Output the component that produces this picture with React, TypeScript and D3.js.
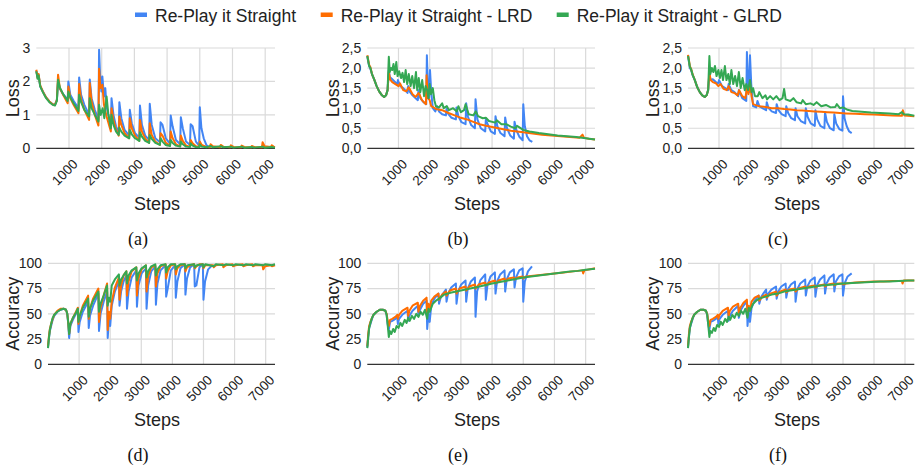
import React from "react";
import * as d3 from "d3";

type Pt = [number, number];

const BLUE = "#4285f4";
const ORANGE = "#ff6d01";
const GREEN = "#34a853";
const FONT = "'Liberation Sans', Arial, sans-serif";

// x: training step, y: value

// (a) loss
const lossA_blue: Pt[] = [[0,2.32],[40,2.12],[70,2.2],[120,1.85],[200,1.7],[300,1.52],[400,1.4],[500,1.32],[570,1.3],[630,1.45],
  [665,2.02],[720,1.78],[820,1.62],[960,1.45],[980,2.0],[1040,1.6],[1140,1.42],[1290,1.2],
  [1310,2.12],[1370,1.6],[1470,1.3],[1615,1.0],[1635,2.06],[1690,1.5],[1790,1.15],[1900,0.85],
  [1920,2.95],[1950,2.2],[1990,1.7],[2020,2.15],[2070,1.55],[2110,1.8],[2150,1.25],[2280,0.62],
  [2300,1.5],[2360,1.0],[2440,0.65],[2520,0.45],[2540,1.38],[2600,0.9],[2700,0.55],[2840,0.38],
  [2860,1.15],[2920,0.75],[3020,0.45],[3150,0.32],[3170,1.28],[3230,0.7],[3330,0.38],[3450,0.25],
  [3470,1.33],[3530,0.7],[3640,0.3],[3780,0.18],[3800,0.78],[3860,0.7],[3960,0.3],[4090,0.14],
  [4110,0.98],[4170,0.65],[4270,0.25],[4400,0.12],[4420,0.93],[4480,0.6],[4580,0.2],[4700,0.1],
  [4720,0.72],[4780,0.66],[4880,0.2],[4980,0.08],[5000,1.23],[5050,0.6],[5120,0.3],[5200,0.1],[5280,0.03]];
const lossA_orange: Pt[] = [[0,2.35],[40,2.1],[70,2.22],[120,1.88],[200,1.7],[300,1.52],[400,1.4],[500,1.32],[570,1.3],[630,1.45],
  [665,2.2],[720,1.8],[820,1.6],[960,1.35],[980,1.85],[1040,1.5],[1140,1.3],[1290,1.05],
  [1310,1.92],[1370,1.45],[1470,1.15],[1615,0.85],[1635,1.95],[1690,1.4],[1790,1.0],[1900,0.68],
  [1920,2.38],[1960,1.8],[2020,1.9],[2070,1.3],[2150,0.95],[2280,0.5],
  [2300,1.2],[2360,0.85],[2440,0.55],[2520,0.38],[2540,0.95],[2600,0.7],[2700,0.45],[2840,0.3],
  [2860,0.9],[2920,0.6],[3020,0.38],[3150,0.22],[3170,0.85],[3230,0.5],[3330,0.3],[3450,0.16],
  [3470,0.75],[3530,0.4],[3640,0.2],[3780,0.1],[3800,0.45],[3860,0.38],[3960,0.16],[4090,0.08],
  [4110,0.5],[4170,0.3],[4270,0.12],[4400,0.06],[4420,0.38],[4480,0.22],[4580,0.08],[4700,0.05],
  [4720,0.25],[4780,0.15],[4880,0.06],[4980,0.04],[5000,0.2],[5060,0.1],[5200,0.04],[5310,0.03],
  [5330,0.12],[5400,0.06],[5620,0.03],[5640,0.1],[5720,0.05],[5930,0.03],[5950,0.09],[6030,0.04],
  [6260,0.03],[6280,0.08],[6360,0.04],[6570,0.03],[6590,0.07],[6660,0.04],[6900,0.03],[6920,0.18],
  [6980,0.06],[7180,0.04],[7200,0.09],[7260,0.05],[7300,0.04]];
const lossA_green: Pt[] = [[0,2.3],[40,2.08],[70,2.18],[120,1.85],[200,1.68],[300,1.5],[400,1.38],[500,1.3],[570,1.28],[630,1.42],
  [665,2.05],[720,1.82],[820,1.62],[960,1.42],[980,1.7],[1040,1.52],[1140,1.35],[1290,1.12],
  [1310,1.6],[1370,1.38],[1470,1.15],[1615,0.95],[1635,1.5],[1690,1.2],[1790,1.0],[1900,0.8],
  [1920,1.3],[1970,1.0],[2030,1.2],[2080,0.9],[2150,1.55],[2200,1.05],[2280,0.6],
  [2300,1.0],[2360,0.7],[2440,0.5],[2520,0.4],[2540,0.62],[2600,0.5],[2700,0.38],[2840,0.3],
  [2860,0.55],[2920,0.42],[3020,0.3],[3150,0.22],[3170,0.48],[3230,0.35],[3330,0.22],[3450,0.16],
  [3470,0.4],[3530,0.28],[3640,0.16],[3780,0.1],[3800,0.3],[3860,0.2],[3960,0.1],[4090,0.07],
  [4110,0.25],[4170,0.16],[4270,0.08],[4400,0.05],[4420,0.2],[4480,0.12],[4580,0.05],[4700,0.04],
  [4720,0.15],[4780,0.08],[4880,0.04],[4980,0.03],[5000,0.12],[5060,0.05],[5200,0.03],[5330,0.07],
  [5400,0.03],[5640,0.06],[5720,0.03],[5950,0.05],[6030,0.02],[6280,0.05],[6360,0.02],[6590,0.04],
  [6660,0.02],[6920,0.05],[6980,0.02],[7200,0.04],[7300,0.02]];

// (b) loss
const lossB_blue: Pt[] = [[0,2.3],[30,2.15],[60,2.05],[100,1.98],[150,1.85],[220,1.72],[300,1.55],[380,1.42],[460,1.33],[540,1.28],[600,1.32],[650,1.45],
  [690,1.95],[720,1.78],[800,1.72],[880,1.66],[960,1.6],[980,1.7],[1060,1.55],[1150,1.5],[1250,1.42],[1290,1.38],
  [1310,1.55],[1370,1.4],[1450,1.32],[1550,1.25],[1620,1.2],[1640,1.45],[1700,1.25],[1800,1.15],[1890,1.1],
  [1910,2.32],[1940,1.6],[1980,1.25],[2010,1.95],[2050,1.4],[2100,1.0],[2180,0.92],
  [2240,1.05],[2300,0.92],[2400,0.85],[2520,0.82],[2540,0.98],[2600,0.85],[2700,0.76],[2840,0.72],
  [2860,1.02],[2920,0.8],[3020,0.65],[3150,0.6],[3170,1.12],[3230,0.78],[3330,0.58],[3450,0.5],
  [3470,1.22],[3530,0.72],[3640,0.5],[3780,0.42],[3800,0.72],[3860,0.6],[3960,0.42],[4090,0.36],
  [4110,0.8],[4170,0.55],[4270,0.38],[4400,0.3],[4420,0.77],[4480,0.5],[4580,0.32],[4700,0.24],
  [4720,0.66],[4780,0.45],[4880,0.28],[4980,0.2],[5000,1.1],[5050,0.55],[5120,0.3],[5200,0.2],[5290,0.16]];
const lossB_orange: Pt[] = [[0,2.32],[30,2.2],[60,2.08],[100,2.02],[150,1.85],[220,1.72],[300,1.55],[380,1.42],[460,1.33],[540,1.28],[600,1.32],[650,1.45],
  [690,1.9],[730,1.72],[800,1.65],[900,1.6],[1000,1.55],[1050,1.62],[1150,1.45],[1250,1.42],[1330,1.52],[1450,1.35],
  [1550,1.28],[1650,1.38],[1750,1.2],[1880,1.1],[1900,1.82],[1940,1.25],[2000,1.2],[2050,1.05],[2200,0.98],
  [2400,0.95],[2600,0.88],[2800,0.82],[3000,0.76],[3200,0.72],[3400,0.66],[3600,0.6],[3800,0.56],[4000,0.53],
  [4200,0.5],[4400,0.47],[4600,0.44],[4800,0.42],[5000,0.4],[5300,0.37],[5600,0.34],[5900,0.32],[6200,0.3],
  [6500,0.28],[6800,0.26],[6900,0.34],[6950,0.26],[7100,0.24],[7300,0.22]];
const lossB_green: Pt[] = [[0,2.3],[30,2.18],[60,2.05],[100,2.0],[150,1.85],[220,1.72],[300,1.55],[380,1.42],[460,1.33],[540,1.28],[600,1.32],[650,1.45],
  [690,2.28],[720,1.9],[760,2.0],[800,1.95],[840,2.1],[880,1.85],[930,2.15],[970,1.8],[1020,1.92],[1080,1.75],
  [1130,1.88],[1180,1.65],[1230,1.95],[1280,1.6],[1330,1.85],[1390,1.55],[1440,1.8],[1500,1.5],[1560,1.9],
  [1600,1.45],[1650,1.75],[1700,1.4],[1760,1.7],[1820,1.3],[1870,1.55],[1920,1.45],[1960,1.25],[2000,1.6],
  [2040,1.35],[2100,1.5],[2150,1.2],[2200,1.05],[2300,1.02],[2400,1.12],[2450,1.0],[2550,1.05],[2620,0.95],
  [2750,1.0],[2870,0.92],[2920,1.05],[3000,0.9],[3100,0.95],[3150,1.1],[3250,0.85],[3400,0.82],[3480,0.92],
  [3550,0.8],[3700,0.75],[3800,0.76],[3900,0.68],[4100,0.64],[4150,0.7],[4300,0.6],[4450,0.6],[4600,0.54],
  [4750,0.5],[4800,0.56],[5000,0.46],[5200,0.42],[5500,0.38],[5800,0.35],[6100,0.32],[6400,0.3],[6700,0.28],
  [7000,0.25],[7300,0.22]];

// (c) loss
const lossC_blue: Pt[] = [[0,2.32],[30,2.15],[60,2.0],[100,1.95],[150,1.82],[220,1.7],[300,1.52],[380,1.4],[460,1.32],[540,1.28],[600,1.32],[650,1.45],
  [690,1.85],[730,1.7],[800,1.72],[900,1.65],[980,1.62],[1000,1.7],[1100,1.55],[1200,1.5],[1290,1.45],
  [1310,1.6],[1400,1.45],[1500,1.4],[1620,1.3],[1640,1.45],[1750,1.25],[1880,1.18],[1900,2.4],[1930,1.8],
  [1970,1.4],[2000,2.32],[2040,1.6],[2100,1.05],[2200,1.02],
  [2240,1.18],[2300,1.05],[2400,1.0],[2520,0.95],[2540,1.15],[2600,1.0],[2700,0.92],[2840,0.88],
  [2860,1.1],[2920,0.95],[3020,0.85],[3150,0.8],[3170,1.05],[3230,0.88],[3330,0.75],[3450,0.7],
  [3470,1.0],[3530,0.8],[3640,0.68],[3780,0.62],[3800,1.0],[3860,0.78],[3960,0.62],[4090,0.56],
  [4110,0.95],[4170,0.72],[4270,0.56],[4400,0.5],[4420,0.9],[4480,0.66],[4580,0.5],[4700,0.45],
  [4720,0.85],[4780,0.62],[4880,0.48],[4980,0.44],[5000,1.3],[5050,0.75],[5120,0.55],[5200,0.42],[5280,0.38]];
const lossC_orange: Pt[] = [[0,2.33],[30,2.2],[60,2.05],[100,1.98],[150,1.84],[220,1.7],[300,1.52],[380,1.4],[460,1.32],[540,1.28],[600,1.32],[650,1.45],
  [690,1.9],[730,1.7],[800,1.65],[900,1.62],[980,1.55],[1050,1.6],[1150,1.48],[1250,1.45],[1310,1.55],[1400,1.4],
  [1500,1.38],[1600,1.32],[1650,1.45],[1750,1.3],[1850,1.25],[1900,1.5],[1950,1.35],[2000,1.62],[2050,1.3],
  [2100,1.1],[2200,1.07],[2300,1.05],[2500,1.03],[2700,1.0],[2900,1.0],[3100,0.98],[3300,0.97],[3500,0.95],
  [3700,0.94],[3900,0.93],[4100,0.92],[4300,0.91],[4500,0.9],[4700,0.89],[4900,0.88],[5100,0.87],[5400,0.86],
  [5700,0.85],[6000,0.84],[6300,0.83],[6600,0.82],[6900,0.81],[6930,0.95],[6980,0.82],[7300,0.8]];
const lossC_green: Pt[] = [[0,2.3],[30,2.18],[60,2.03],[100,1.97],[150,1.83],[220,1.7],[300,1.52],[380,1.4],[460,1.32],[540,1.28],[600,1.32],[650,1.45],
  [690,2.3],[720,1.85],[770,2.0],[820,1.9],[870,2.05],[920,1.8],[980,1.95],[1030,1.75],[1080,1.95],[1130,1.7],
  [1190,2.05],[1240,1.7],[1300,1.85],[1350,1.6],[1400,1.95],[1460,1.6],[1520,1.8],[1580,1.55],[1640,1.9],
  [1700,1.5],[1760,1.75],[1830,1.45],[1880,1.6],[1940,1.45],[2000,1.7],[2050,1.4],[2100,1.5],[2160,1.3],
  [2250,1.3],[2300,1.4],[2400,1.25],[2500,1.32],[2550,1.22],[2650,1.3],[2750,1.22],[2850,1.3],[2950,1.2],
  [3050,1.25],[3100,1.48],[3150,1.22],[3300,1.18],[3400,1.25],[3500,1.15],[3650,1.12],[3700,1.2],[3800,1.1],
  [3950,1.12],[4050,1.08],[4150,1.15],[4300,1.05],[4450,1.08],[4600,1.02],[4750,1.03],[4800,1.1],[4900,1.0],
  [5000,1.02],[5150,0.96],[5300,0.93],[5600,0.91],[5900,0.89],[6200,0.88],[6500,0.87],[6800,0.85],[6900,0.9],
  [6950,0.85],[7100,0.84],[7300,0.81]];

// (d) accuracy
const accD_blue: Pt[] = [[0,17],[30,26],[60,33],[100,38],[150,44],[200,48],[300,52],[400,54],[500,55],[580,54],[620,50],[650,40],
  [680,26],[720,38],[800,44],[900,50],[960,55],[980,32],[1020,42],[1120,52],[1290,62],
  [1310,36],[1350,48],[1450,58],[1620,70],[1640,33],[1690,50],[1790,62],[1900,72],
  [1920,26],[1960,45],[2000,38],[2050,58],[2150,72],[2280,82],[2300,58],[2350,72],[2430,82],[2520,88],
  [2540,55],[2590,72],[2690,86],[2840,93],[2860,57],[2910,78],[3010,90],[3150,95],
  [3170,55],[3220,78],[3320,92],[3450,97],[3470,59],[3520,80],[3620,93],[3780,98],
  [3800,67],[3850,75],[3950,93],[4090,98],[4110,66],[4160,82],[4260,95],[4400,99],
  [4420,69],[4470,85],[4570,96],[4700,99],[4720,77],[4770,78],[4870,96],[4980,99],
  [5000,64],[5050,82],[5150,94],[5280,98]];
const accD_orange: Pt[] = [[0,18],[30,28],[60,35],[100,40],[150,45],[200,49],[300,53],[400,55],[500,55],[580,54],[620,50],[650,42],
  [680,30],[720,40],[800,46],[900,52],[960,56],[980,40],[1020,48],[1120,58],[1290,68],
  [1310,45],[1350,55],[1450,65],[1620,75],[1640,42],[1690,56],[1790,68],[1900,80],
  [1920,34],[1960,52],[2000,45],[2050,62],[2150,76],[2280,86],[2300,64],[2350,78],[2430,88],[2520,92],
  [2540,68],[2590,82],[2690,92],[2840,96],[2860,68],[2910,85],[3010,94],[3150,98],
  [3170,72],[3220,87],[3320,96],[3450,98],[3470,77],[3520,90],[3620,97],[3780,99],
  [3800,85],[3850,92],[3950,98],[4090,99],[4110,89],[4160,95],[4260,98],[4400,99],
  [4420,92],[4470,96],[4570,98],[4700,99],[4720,95],[4770,97],[4870,99],[4980,99],
  [5000,95],[5060,98],[5310,98],[5330,96],[5400,98],[5620,99],[5640,96],[5720,98],[5930,99],[5950,97],
  [6030,98],[6260,99],[6280,97],[6360,98],[6570,99],[6590,97],[6660,98],[6900,98],[6920,94],[6980,97],
  [7180,98],[7200,97],[7300,98]];
const accD_green: Pt[] = [[0,16],[30,26],[60,34],[100,40],[150,46],[200,49],[300,52],[400,54],[500,55],[580,54],[620,50],[650,42],
  [680,30],[720,40],[800,46],[900,51],[960,55],[980,42],[1020,48],[1120,56],[1290,65],
  [1310,47],[1350,55],[1450,63],[1620,72],[1640,52],[1690,60],[1790,68],[1900,78],
  [1920,58],[1960,66],[2000,62],[2050,78],[2150,84],[2280,89],[2300,78],[2350,84],[2430,88],[2520,92],
  [2540,80],[2590,88],[2690,93],[2840,96],[2860,83],[2910,90],[3010,95],[3150,98],
  [3170,86],[3220,92],[3320,97],[3450,99],[3470,88],[3520,94],[3620,98],[3780,99],
  [3800,91],[3850,96],[3950,99],[4090,99],[4110,94],[4160,97],[4260,99],[4400,99],
  [4420,95],[4480,98],[4700,99],[4720,96],[4780,98],[4980,99],[5000,96],[5060,99],[5330,97],[5400,99],
  [5640,98],[5720,99],[5950,98],[6030,99],[6280,98],[6360,99],[6590,98],[6660,99],[6920,98],[6980,99],
  [7200,98],[7300,99]];

// (e) accuracy
const accE_blue: Pt[] = [[0,17],[30,27],[60,36],[100,40],[150,45],[200,49],[300,52],[400,54],[500,54],[580,53],[620,49],[650,40],
  [690,34],[730,42],[800,43],[900,45],[960,47],[980,40],[1020,45],[1120,49],[1290,53],
  [1310,43],[1350,48],[1450,53],[1620,58],[1640,48],[1690,54],[1790,60],[1900,63],
  [1920,35],[1960,50],[2000,42],[2050,58],[2150,65],[2280,70],[2300,60],[2350,66],[2430,70],[2520,74],
  [2540,62],[2590,70],[2690,76],[2840,80],[2860,60],[2910,72],[3010,79],[3150,83],
  [3170,62],[3220,75],[3320,82],[3450,86],[3470,47],[3520,72],[3620,83],[3780,89],
  [3800,64],[3850,78],[3950,87],[4090,91],[4110,70],[4160,82],[4260,89],[4400,93],
  [4420,72],[4470,84],[4570,91],[4700,94],[4720,76],[4770,86],[4870,93],[4980,95],
  [5000,62],[5050,82],[5150,92],[5280,97]];
const accE_orange: Pt[] = [[0,18],[30,30],[60,38],[100,42],[150,46],[200,49],[300,52],[400,54],[500,54],[580,53],[620,50],[650,44],
  [690,38],[730,44],[800,45],[900,47],[960,49],[980,45],[1020,49],[1120,53],[1290,56],
  [1310,48],[1350,53],[1450,58],[1620,61],[1640,52],[1690,58],[1790,63],[1900,66],
  [1920,50],[1960,60],[2000,55],[2050,63],[2150,67],[2280,70],[2300,64],[2400,69],[2520,72],[2540,68],
  [2650,73],[2840,75],[2860,70],[2960,75],[3150,77],[3170,73],[3270,77],[3450,79],[3470,75],[3570,79],
  [3780,81],[3800,78],[3900,81],[4090,83],[4110,80],[4210,83],[4400,85],[4420,82],[4520,85],[4700,86],
  [4720,84],[4820,86],[4980,87],[5000,85],[5100,87],[5400,88],[5700,89],[6000,90],[6300,91],[6600,92],
  [6900,93],[6920,90],[6960,93],[7300,95]];
const accE_green: Pt[] = [[0,16],[30,27],[60,36],[100,41],[150,46],[200,49],[300,52],[400,54],[500,54],[580,53],[620,49],[650,40],
  [690,27],[720,33],[770,30],[830,35],[880,32],[940,38],[1000,36],[1060,41],[1120,38],[1200,44],[1260,41],
  [1310,46],[1360,43],[1430,48],[1500,45],[1570,50],[1640,47],[1710,52],[1780,49],[1850,54],[1920,45],
  [1960,55],[2000,52],[2100,60],[2200,63],[2300,65],[2460,69],[2700,71],[3000,73],[3300,75],[3600,77],
  [4000,80],[4250,81.5],[4500,83],[4750,84.5],[5000,86],[5250,87],[5500,88],[5750,89],[6000,90],[6250,91],
  [6500,92],[6750,92.5],[7000,93.5],[7300,94.5]];

// (f) accuracy
const accF_blue: Pt[] = [[0,17],[30,27],[60,36],[100,40],[150,45],[200,49],[300,52],[400,54],[500,54],[580,53],[620,49],[650,40],
  [690,34],[730,42],[800,43],[900,45],[960,47],[980,40],[1020,45],[1120,49],[1290,53],
  [1310,43],[1350,48],[1450,53],[1620,58],[1640,46],[1690,53],[1790,58],[1900,62],
  [1920,38],[1960,52],[2000,42],[2050,56],[2150,63],[2280,68],[2300,60],[2350,66],[2430,70],[2520,74],
  [2540,64],[2590,70],[2690,74],[2840,77],[2860,65],[2910,72],[3010,77],[3150,80],
  [3170,66],[3220,74],[3320,79],[3450,82],[3470,62],[3520,74],[3620,80],[3780,84],
  [3800,68],[3850,77],[3950,83],[4090,86],[4110,67],[4160,78],[4260,84],[4400,88],
  [4420,70],[4470,80],[4570,86],[4700,89],[4720,72],[4770,82],[4870,87],[4980,89],
  [5000,68],[5050,80],[5150,87],[5280,90]];
const accF_orange: Pt[] = [[0,18],[30,30],[60,38],[100,42],[150,46],[200,49],[300,52],[400,54],[500,54],[580,53],[620,50],[650,44],
  [690,38],[730,44],[800,45],[900,47],[960,49],[980,45],[1020,49],[1120,53],[1290,56],
  [1310,48],[1350,53],[1450,57],[1620,60],[1640,51],[1690,56],[1790,61],[1900,64],
  [1920,48],[1960,58],[2000,53],[2050,62],[2150,66],[2280,68],[2300,63],[2400,67],[2520,69],[2540,66],
  [2650,70],[2840,72],[2860,68],[2960,72],[3150,74],[3170,71],[3270,74],[3450,75],[3470,72],[3570,75],
  [3780,77],[3800,75],[3900,77],[4090,78],[4110,76],[4210,78],[4400,79],[4420,77],[4520,79],[4700,80],
  [4720,78],[4820,80],[4980,80],[5000,79],[5100,80],[5400,81],[5700,81.5],[6000,82],[6300,82],[6600,82.5],
  [6900,82.5],[6920,80],[6960,83],[7300,83]];
const accF_green: Pt[] = [[0,16],[30,27],[60,36],[100,41],[150,46],[200,49],[300,52],[400,54],[500,54],[580,53],[620,49],[650,40],
  [690,27],[720,33],[770,31],[830,36],[880,33],[940,39],[1000,37],[1060,42],[1120,39],[1200,45],[1260,42],
  [1310,47],[1360,44],[1430,49],[1500,46],[1570,51],[1640,48],[1710,53],[1780,50],[1850,55],[1920,46],
  [1960,56],[2000,53],[2100,60],[2200,63],[2300,65],[2400,66],[2500,67],[2700,69],[2900,70],[3100,72],
  [3300,73],[3500,74],[3700,75],[3900,76],[4100,77],[4300,78],[4500,78.5],[4700,79],[5000,80],[5300,80.5],
  [5600,81],[5900,81.5],[6200,82],[6500,82],[6800,82.5],[7100,83],[7300,83]];

const seriesNames = ["Re-Play it Straight", "Re-Play it Straight - LRD", "Re-Play it Straight - GLRD"];
const seriesColors = [BLUE, ORANGE, GREEN];
const stepTicks = [1000, 2000, 3000, 4000, 5000, 6000, 7000];
const lossTicksA = [0, 1, 2, 3];
const lossTicksBC = [0, 0.5, 1, 1.5, 2, 2.5];
const accTicks = [0, 25, 50, 75, 100];
const captions = ["(a)", "(b)", "(c)", "(d)", "(e)", "(f)"];

type PanelProps = {
  col: number;
  row: number;
  left: number;
  right: number;
  ticks: number[];
  fmt: (v: number) => string;
  yLabel: string;
  caption: string;
  data: Pt[][];
};

function Panel({ col, row, left, right, ticks, fmt, yLabel, caption, data }: PanelProps) {
  const colX = col * 320;
  const top = row === 0 ? 48 : 263.3;
  const bottom = row === 0 ? 148.3 : 364.3;
  const x = d3.scaleLinear().domain([0, 7300]).range([left, right]);
  const y = d3.scaleLinear().domain([0, ticks[ticks.length - 1]]).range([bottom, top]);
  const line = d3.line<Pt>().x(d => x(d[0])).y(d => y(d[1]));

  return (
    <g>
      {ticks.filter(t => t > 0).map(t => (
        <line key={"h" + t} x1={left} x2={right} y1={y(t)} y2={y(t)} stroke="#dadada" strokeWidth={1.2} />
      ))}
      {stepTicks.map(t => (
        <line key={"v" + t} x1={x(t)} x2={x(t)} y1={top} y2={bottom} stroke="#dadada" strokeWidth={1.2} />
      ))}
      <line x1={left} x2={right} y1={y(0)} y2={y(0)} stroke="#333" strokeWidth={1.2} />
      {data.map((d, i) => (
        <path key={i} d={line(d) || ""} fill="none" stroke={seriesColors[i]} strokeWidth={2} strokeLinejoin="round" />
      ))}
      {ticks.map(t => (
        <text key={"yt" + t} x={left - 6} y={y(t)} dy="0.35em" textAnchor="end" fontSize={14} fill="#222">
          {fmt(t)}
        </text>
      ))}
      {stepTicks.map(t => (
        <text key={"xt" + t} transform={`translate(${x(t) + 3},${bottom + 10}) rotate(-45)`}
          dy="0.7em" textAnchor="end" fontSize={13.5} fill="#222">
          {t}
        </text>
      ))}
      <text transform={`translate(${colX + 19},${(top + bottom) / 2}) rotate(-90)`} textAnchor="middle"
        fontSize={18} fill="#222">
        {yLabel}
      </text>
      <text x={colX + 157} y={bottom + 62} textAnchor="middle" fontSize={18} fill="#222">Steps</text>
      <text x={colX + 138} y={bottom + 97} textAnchor="middle" fontSize={18} fill="#111"
        fontFamily="'Liberation Serif', 'DejaVu Serif', serif">
        {caption}
      </text>
    </g>
  );
}

const fmtInt = (v: number) => String(v);
const fmtComma = (v: number) => v.toFixed(1).replace(".", ",");

export default function App() {
  const legendX = [135, 320.7, 556.7];
  return (
    <svg width={916} height={469} style={{ position: "absolute", left: 0, top: 0, background: "#fff" }}
      fontFamily={FONT}>
      {seriesNames.map((n, i) => (
        <g key={n}>
          <rect x={legendX[i]} y={12.5} width={12} height={4.5} fill={seriesColors[i]} />
          <text x={legendX[i] + 20} y={21.5} fontSize={17.5} fill="#222">{n}</text>
        </g>
      ))}
      <Panel col={0} row={0} left={36.3} right={275} ticks={lossTicksA} fmt={fmtInt} yLabel="Loss"
        caption={captions[0]} data={[lossA_blue, lossA_orange, lossA_green]} />
      <Panel col={1} row={0} left={367.3} right={595} ticks={lossTicksBC} fmt={fmtComma} yLabel="Loss"
        caption={captions[1]} data={[lossB_blue, lossB_orange, lossB_green]} />
      <Panel col={2} row={0} left={688} right={914.3} ticks={lossTicksBC} fmt={fmtComma} yLabel="Loss"
        caption={captions[2]} data={[lossC_blue, lossC_orange, lossC_green]} />
      <Panel col={0} row={1} left={48} right={275} ticks={accTicks} fmt={fmtInt} yLabel="Accuracy"
        caption={captions[3]} data={[accD_blue, accD_orange, accD_green]} />
      <Panel col={1} row={1} left={367.3} right={595} ticks={accTicks} fmt={fmtInt} yLabel="Accuracy"
        caption={captions[4]} data={[accE_blue, accE_orange, accE_green]} />
      <Panel col={2} row={1} left={688} right={914.3} ticks={accTicks} fmt={fmtInt} yLabel="Accuracy"
        caption={captions[5]} data={[accF_blue, accF_orange, accF_green]} />
    </svg>
  );
}
